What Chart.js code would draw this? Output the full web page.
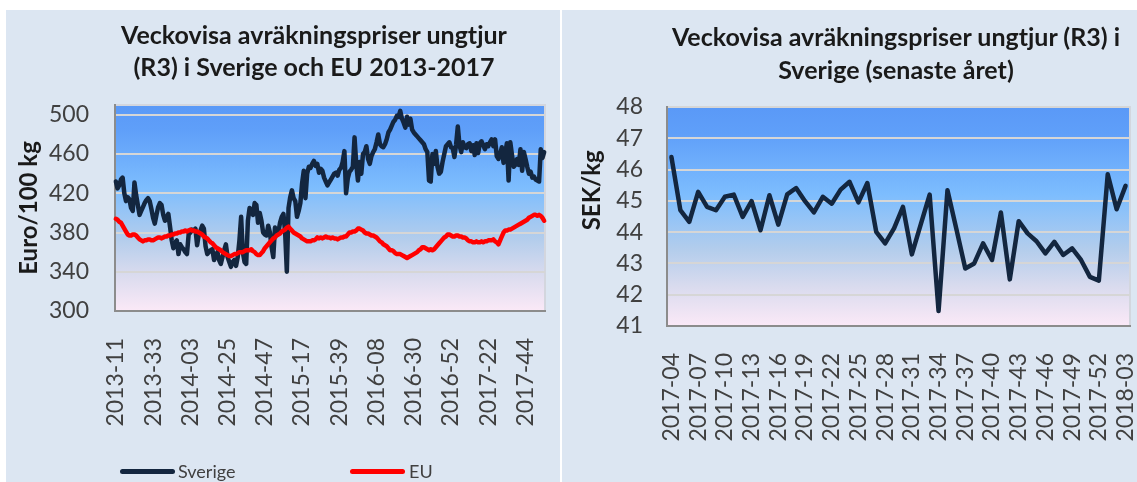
<!DOCTYPE html>
<html>
<head>
<meta charset="utf-8">
<script src="https://cdn.jsdelivr.net/npm/chart.js@4.4.1/dist/chart.umd.min.js"></script>
<style>
  html, body { margin: 0; padding: 0; background: #fff; }
  body { width: 1137px; height: 482px; position: relative; overflow: hidden; font-family: Lato, "Open Sans", sans-serif; }
  .panel { position: absolute; top: 10px; height: 472px; background: #dce6f2; }
  #leftPanel { left: 6px; width: 554px; }
  #rightPanel { left: 562px; width: 575px; }
  .panel canvas { position: absolute; left: 0; top: 0; }
  .title { position: absolute; width: 600px; text-align: center; font-weight: bold; font-size: 25px; color: #1a1a1a; white-space: nowrap; }
  .legendItem { position: absolute; top: 460px; font-size: 18px; line-height: 22px; color: #404040; }
  .legendBar { position: absolute; top: 469px; width: 55px; height: 5px; border-radius: 3px; }
</style>
</head>
<body>
<div id="leftPanel" class="panel"><canvas id="leftChart" width="554" height="472"></canvas></div>
<div id="rightPanel" class="panel"><canvas id="rightChart" width="575" height="472"></canvas></div>

<div class="title" style="left:14px; top:18px; line-height:32px;">Veckovisa avräkningspriser ungtjur<br>(R3) i Sverige och EU 2013-2017</div>
<div class="title" style="left:596px; top:20px; line-height:33px;">Veckovisa avräkningspriser ungtjur (R3) i<br>Sverige (senaste året)</div>

<div class="legendBar" style="left:120px; background:#13263f;"></div>
<div class="legendItem" style="left:178px;">Sverige</div>
<div class="legendBar" style="left:350px; background:#ff0000;"></div>
<div class="legendItem" style="left:409px;">EU</div>

<script>
// Veckor (år, första vecka, sista vecka)
const leftWeekSpans = [[2013, 11, 52], [2014, 1, 52], [2015, 1, 53], [2016, 1, 52], [2017, 1, 52], [2018, 1, 3]];
const rightWeekSpans = [[2017, 4, 52], [2018, 1, 3]];

// Euro/100 kg, vecka 2013-11 .. 2018-03
const sverigeEur = [
  432,425,428,434,436,420,412,416,414,405,
  402,431,418,408,398,402,406,410,413,415,
  412,404,395,389,398,406,410,408,398,392,
  396,399,386,372,364,370,372,358,368,365,
  363,360,358,378,380,383,382,384,367,378,
  382,387,384,366,358,360,362,363,352,356,
  360,352,348,355,362,368,355,350,345,350,
  352,346,355,372,396,360,350,348,392,405,
  403,398,410,408,390,400,392,380,378,377,
  387,380,365,355,385,382,380,390,396,399,
  380,340,405,416,423,415,412,396,402,410,
  430,443,415,440,447,446,450,453,448,450,
  441,445,443,436,432,428,431,434,437,440,
  441,438,444,446,452,463,420,435,442,444,
  447,477,450,433,452,440,460,462,468,455,
  450,458,462,465,472,480,470,468,467,470,
  475,482,485,489,493,495,499,498,504,496,
  492,487,498,490,496,485,482,480,478,476,
  474,472,470,465,462,433,432,460,450,463,
  447,440,442,452,460,468,470,472,467,466,
  457,470,488,469,462,472,467,466,470,471,
  463,469,459,471,461,471,473,469,465,470,
  468,472,475,468,475,458,455,460,467,451,
  461,471,433,472,459,447,449,455,449,465,
  443,462,455,447,440,442,436,437,434,433,
  432,465,456,462
];
const euEur = [
  394,393,391,390,387,384,381,378,377,377,
  378,378,377,375,373,372,371,372,372,373,
  373,372,372,373,374,375,375,374,375,376,
  376,377,377,378,378,379,379,380,380,381,
  381,382,381,382,383,382,382,381,381,380,
  379,378,376,375,374,372,370,369,367,365,
  364,363,362,360,359,358,357,356,356,357,
  358,358,359,360,360,360,361,362,362,362,
  363,361,360,358,357,357,359,361,364,366,
  368,370,372,374,375,377,378,379,381,382,
  383,385,386,384,382,380,379,378,377,376,
  374,373,372,371,371,371,372,372,373,375,
  374,375,374,375,376,375,375,374,375,374,
  374,373,374,375,375,376,376,378,380,380,
  381,381,382,384,384,383,382,380,379,379,
  378,377,377,376,375,373,371,370,368,367,
  366,364,362,362,361,359,358,358,358,357,
  356,355,354,355,356,357,358,359,360,362,
  363,365,365,364,363,362,363,362,363,365,
  367,369,371,373,375,376,378,378,377,376,
  376,377,377,376,376,375,375,374,372,371,
  371,370,370,371,370,370,371,370,371,371,
  372,372,372,373,371,370,368,372,376,380,
  382,382,383,383,384,385,386,387,388,389,
  390,391,392,393,395,396,397,398,398,397,
  398,397,395,392
];

// SEK/kg, vecka 2017-04 .. 2018-03
const sverigeSek = [
  46.4,44.7,44.33,45.29,44.81,44.7,45.13,45.2,44.49,44.99,
  44.06,45.18,44.24,45.21,45.41,44.99,44.63,45.13,44.91,45.36,
  45.61,44.95,45.57,44.01,43.64,44.12,44.81,43.29,44.25,45.2,
  41.48,45.34,44.1,42.84,43.0,43.64,43.11,44.63,42.49,44.35,
  43.96,43.71,43.32,43.69,43.27,43.48,43.11,42.57,42.45,45.85,
  44.73,45.48
];

const leftYTicks = [300, 340, 380, 420, 460, 500];
const rightYTicks = [41, 42, 43, 44, 45, 46, 47, 48];

function weekLabels(spans) {
  const out = [];
  spans.forEach(([year, first, last]) => {
    for (let w = first; w <= last; w++) out.push(year + '-' + String(w).padStart(2, '0'));
  });
  return out;
}

document.addEventListener('DOMContentLoaded', function () {
  Chart.defaults.font.family = 'Lato, "Open Sans", sans-serif';
  Chart.defaults.color = '#404040';

  // Diagramytans toning (blå uppe, ljusrosa nere)
  const plotBackground = {
    id: 'plotBackground',
    beforeDraw(chart) {
      const { ctx, chartArea: a } = chart;
      const g = ctx.createLinearGradient(0, a.top, 0, a.bottom);
      g.addColorStop(0, '#5a99f7');
      g.addColorStop(0.12, '#5f9ff9');
      g.addColorStop(0.4, '#7dbdfe');
      g.addColorStop(0.65, '#b3cdec');
      g.addColorStop(0.82, '#d9dbee');
      g.addColorStop(1, '#fbe9f7');
      ctx.save();
      ctx.fillStyle = g;
      ctx.fillRect(a.left, a.top, a.right - a.left, a.bottom - a.top);
      ctx.strokeStyle = '#d3d6de';
      ctx.lineWidth = 2;
      ctx.strokeRect(a.left, a.top, a.right - a.left, a.bottom - a.top);
      ctx.restore();
    }
  };

  function buildChart(id, labels, datasets, o) {
    return new Chart(document.getElementById(id), {
      type: 'line',
      data: { labels: labels, datasets: datasets },
      options: {
        responsive: false,
        animation: false,
        layout: { padding: { left: 0, top: o.padTop, right: o.padRight, bottom: 0 } },
        plugins: { legend: { display: false }, tooltip: { enabled: false } },
        elements: {
          point: { radius: 0 },
          line: { tension: 0, borderJoinStyle: 'round', borderCapStyle: 'round' }
        },
        scales: {
          x: {
            offset: true,
            grid: { display: false },
            border: { display: true, color: '#8c8c8c', width: 2 },
            ticks: {
              autoSkip: false, minRotation: 90, maxRotation: 90, padding: 19,
              font: { size: 23 }, color: '#404040',
              callback: (v, i) => (i % o.every === 0 ? labels[i] : '')
            },
            afterFit: s => { s.height = o.xHeight; s.paddingLeft = 0; s.paddingRight = 0; }
          },
          y: {
            min: o.yMin, max: o.yMax,
            afterBuildTicks: s => { s.ticks = o.yTicks.map(v => ({ value: v })); },
            grid: { color: '#d6d6d6', lineWidth: 2, drawTicks: false },
            border: { display: true, color: '#8c8c8c', width: 2 },
            ticks: { padding: o.yPad, font: { size: 23 }, color: '#404040' },
            title: {
              display: true, text: o.yTitle, color: '#1a1a1a',
              font: { size: 24, weight: 'bold' }, padding: { top: o.titlePad, bottom: 0 }
            },
            afterFit: s => { s.width = o.yWidth; }
          }
        }
      },
      plugins: [plotBackground]
    });
  }

  const leftLabels = weekLabels(leftWeekSpans);
  const rightLabels = weekLabels(rightWeekSpans);

  buildChart('leftChart', leftLabels, [
    { label: 'Sverige', data: sverigeEur, borderColor: '#13263f', backgroundColor: '#13263f', borderWidth: 4.5, order: 1 },
    { label: 'EU', data: euEur, borderColor: '#ff0000', backgroundColor: '#ff0000', borderWidth: 4.5, order: 0 }
  ], {
    padTop: 95, padRight: 15, xHeight: 171, yWidth: 109, yPad: 26, titlePad: 9,
    every: 22, yMin: 300, yMax: 510, yTicks: leftYTicks, yTitle: 'Euro/100 kg'
  });

  // axeltiteln sitter lite ovanför mitten i originalet, därav mellanslagen först
  buildChart('rightChart', rightLabels, [
    { label: 'Sverige', data: sverigeSek, borderColor: '#13263f', backgroundColor: '#13263f', borderWidth: 4.5 }
  ], {
    padTop: 97, padRight: 7, xHeight: 156, yWidth: 105, yPad: 24, titlePad: 16,
    every: 3, yMin: 41, yMax: 48, yTicks: rightYTicks, yTitle: '         SEK/kg'
  });
});
</script>
</body>
</html>
